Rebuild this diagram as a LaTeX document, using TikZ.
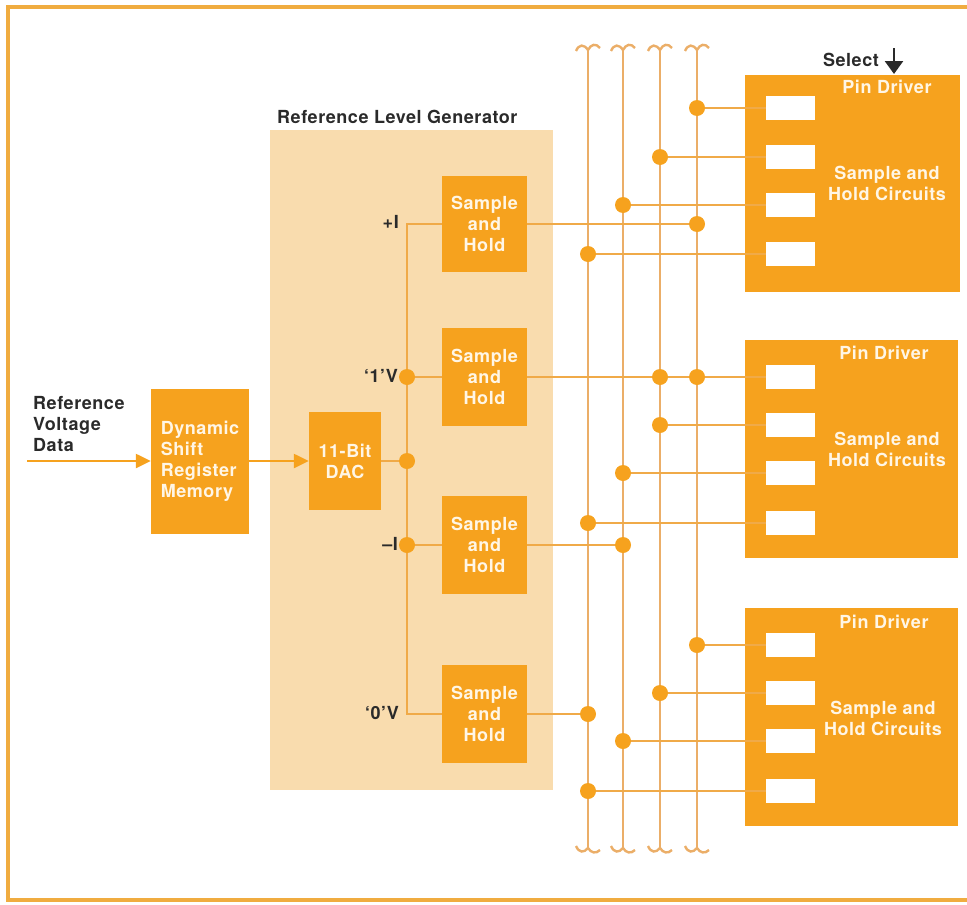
\documentclass[tikz,border=0pt]{standalone}
\usepackage{fontspec}
\setmainfont{TeX Gyre Heros}[LetterSpace=3]
\usetikzlibrary{arrows.meta}
\definecolor{orng}{HTML}{F6A21E}
\definecolor{wirec}{HTML}{F0AA48}
\definecolor{busc}{HTML}{EBAE68}
\definecolor{panel}{HTML}{F9DCAE}
\definecolor{ink}{HTML}{2A2A2A}
\definecolor{cream}{HTML}{FFF6E6}
\definecolor{framec}{HTML}{F0AC40}
\begin{document}
\begin{tikzpicture}[x=1pt,y=-1pt,
  font=\bfseries\fontsize{18}{21}\selectfont,
  obox/.style={fill=orng, draw=none, text=cream, align=center, inner sep=0pt},
  wbox/.style={fill=white, draw=none, minimum width=49pt, minimum height=24pt, inner sep=0pt},
  wire/.style={draw=wirec, line width=2.4pt},
  busline/.style={draw=busc, line width=2.4pt},
  lbl/.style={text=ink, inner sep=0pt},
  tip/.style={-{Triangle[length=15pt,width=14pt]}}
]
\useasboundingbox (0,0) rectangle (967,905);
% frame
\draw[framec, line width=3.5pt] (967,7) -- (8,7) -- (8,900) -- (967,900);

% reference level generator panel
\node[fill=panel, minimum width=283pt, minimum height=660pt, inner sep=0pt] (rlg) at (411.5,460) {};
\node[lbl, anchor=west] (rlgl) at (277,117) {Reference Level Generator};

% left blocks
\node[lbl, anchor=west, align=left] (inl) at (33,424) {Reference\\Voltage\\Data};
\node[obox, minimum width=98pt, minimum height=145pt, align=left] (dsr) at (200,461) {Dynamic\\Shift\\Register\\Memory};
\node[obox, minimum width=72pt, minimum height=98pt] (dac) at (345,461) {11-Bit\\DAC};

% sample and hold blocks
\node[obox, minimum width=85pt, minimum height=96pt] (sh1) at (484.5,224) {Sample\\and\\Hold};
\node[obox, minimum width=85pt, minimum height=98pt] (sh2) at (484.5,377) {Sample\\and\\Hold};
\node[obox, minimum width=85pt, minimum height=98pt] (sh3) at (484.5,545) {Sample\\and\\Hold};
\node[obox, minimum width=85pt, minimum height=98pt] (sh4) at (484.5,714) {Sample\\and\\Hold};

% level labels
\node[lbl, anchor=east] (lpi) at (399,222) {+I};
\node[lbl, anchor=east] (l1v) at (398,376) {‘1’V};
\node[lbl, anchor=east] (lmi) at (398,544) {–I};
\node[lbl, anchor=east] (l0v) at (399,713) {‘0’V};

% pin drivers
\node[obox, minimum width=215pt, minimum height=217pt] (pd1) at (852.5,183.5) {};
\node[obox, minimum width=213pt, minimum height=218pt] (pd2) at (851.5,449) {};
\node[obox, minimum width=213pt, minimum height=218pt] (pd3) at (851.5,717) {};
\node[text=cream, inner sep=0pt] (pd1t) at (887,87) {Pin Driver};
\node[text=cream, inner sep=0pt] (pd2t) at (884,353) {Pin Driver};
\node[text=cream, inner sep=0pt] (pd3t) at (884,622) {Pin Driver};
\node[text=cream, inner sep=0pt, align=center] (pd1s) at (887,183) {Sample and\\Hold Circuits};
\node[text=cream, inner sep=0pt, align=center] (pd2s) at (887,449) {Sample and\\Hold Circuits};
\node[text=cream, inner sep=0pt, align=center] (pd3s) at (883,718) {Sample and\\Hold Circuits};

% white sample-and-hold cells
\node[wbox] (w11) at (790.5,108) {};
\node[wbox] (w12) at (790.5,157) {};
\node[wbox] (w13) at (790.5,205) {};
\node[wbox] (w14) at (790.5,254) {};
\node[wbox] (w21) at (790.5,377) {};
\node[wbox] (w22) at (790.5,425) {};
\node[wbox] (w23) at (790.5,473) {};
\node[wbox] (w24) at (790.5,523) {};
\node[wbox] (w31) at (790.5,645) {};
\node[wbox] (w32) at (790.5,693) {};
\node[wbox] (w33) at (790.5,741) {};
\node[wbox] (w34) at (790.5,791) {};

% buses
\foreach \bx/\nm in {588/b1,623/b2,660/b3,697/b4}{
  \coordinate (\nm t) at (\bx,50);
  \coordinate (\nm b) at (\bx,848);
  \draw[busline] (\nm t) -- (\nm b);
  \draw[busline] (\bx-12,51) .. controls (\bx-9,44) and (\bx-4,44) .. (\bx,50)
                 .. controls (\bx+3,44) and (\bx+8,43) .. (\bx+12,48);
  \draw[busline] (\bx-12,846) .. controls (\bx-9,853) and (\bx-4,853) .. (\bx,848)
                 .. controls (\bx+3,853) and (\bx+8,854) .. (\bx+12,850);
}

% junction coordinates
\coordinate (gA) at (407,224);
\coordinate (g1) at (407,377);
\coordinate (gD) at (407,461);
\coordinate (g3) at (407,545);
\coordinate (g4) at (407,714);
\coordinate (d11) at (697,108);
\coordinate (d12) at (660,157);
\coordinate (d13) at (623,205);
\coordinate (d14) at (588,254);
\coordinate (ds1) at (697,224);
\coordinate (ds2a) at (660,377);
\coordinate (ds2b) at (697,377);
\coordinate (d22) at (660,425);
\coordinate (d23) at (623,473);
\coordinate (d24) at (588,523);
\coordinate (ds3) at (623,545);
\coordinate (d31) at (697,645);
\coordinate (d32) at (660,693);
\coordinate (ds4) at (588,714);
\coordinate (d33) at (623,741);
\coordinate (d34) at (588,791);

% input arrows
\coordinate (inp) at (27,461);
\draw[wire, tip, draw=orng, fill=orng] (inp) -- (dsr.west);
\draw[wire, tip, draw=orng, fill=orng] (dsr.east) -- (dac.west);

% generator wiring
\draw[wire] (dac.east) -- (gD);
\draw[wire] (sh1.west) -- (gA) -- (g4) -- (sh4.west);
\draw[wire] (g1) -- (sh2.west);
\draw[wire] (g3) -- (sh3.west);

% sample-and-hold outputs
\draw[wire] (sh1.east) -- (ds1);
\draw[wire] (sh2.east) -- (ds2a) -- (ds2b) -- (w21.west);
\draw[wire] (sh3.east) -- (ds3);
\draw[wire] (sh4.east) -- (ds4);

% pin driver feeds
\draw[wire] (d11) -- (w11.west);
\draw[wire] (d12) -- (w12.west);
\draw[wire] (d13) -- (w13.west);
\draw[wire] (d14) -- (w14.west);
\draw[wire] (d22) -- (w22.west);
\draw[wire] (d23) -- (w23.west);
\draw[wire] (d24) -- (w24.west);
\draw[wire] (d31) -- (w31.west);
\draw[wire] (d32) -- (w32.west);
\draw[wire] (d33) -- (w33.west);
\draw[wire] (d34) -- (w34.west);

% dots
\foreach \p in {g1,gD,g3,d11,d12,d13,d14,ds1,ds2a,ds2b,d22,d23,d24,ds3,d31,d32,ds4,d33,d34}{
  \fill[orng] (\p) circle (8pt);
}

% select
\node[lbl, anchor=east] (sel) at (879,60) {Select};
\coordinate (selt) at (894,48);
\coordinate (selb) at (894,74);
\draw[ink, line width=2.6pt, -{Triangle[length=13pt,width=18pt]}] (selt) -- (selb);
\end{tikzpicture}
\end{document}
